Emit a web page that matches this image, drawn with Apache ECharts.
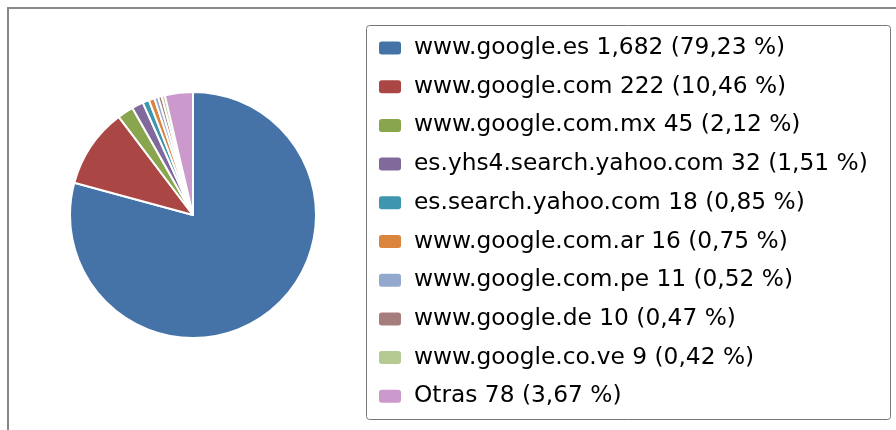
<!DOCTYPE html>
<html>
<head>
<meta charset="utf-8">
<script src="https://cdn.jsdelivr.net/npm/echarts@6/dist/echarts.min.js"></script>
<style>
  html, body { margin: 0; padding: 0; background: #fff; }
  #frame { position: absolute; left: 7px; top: 7px; width: 1000px; height: 600px; border: 2px solid #888; box-sizing: border-box; }
  #chart { position: absolute; left: 0; top: 0; width: 896px; height: 430px; }
</style>
</head>
<body>
<div id="frame"></div>
<div id="chart"></div>
<script>
// referentes (dominios) y visitas
const referentes = ['www.google.es', 'www.google.com', 'www.google.com.mx', 'es.yhs4.search.yahoo.com',
  'es.search.yahoo.com', 'www.google.com.ar', 'www.google.com.pe', 'www.google.de', 'www.google.co.ve', 'Otras'];
const visitas = [1682, 222, 45, 32, 18, 16, 11, 10, 9, 78];
const colores = ['#4572A7', '#AA4643', '#89A54E', '#80699B', '#3D96AE', '#DB843D', '#92A8CD', '#A47D7C', '#B5CA92', '#CC99CC'];

const total = visitas.reduce((a, b) => a + b, 0);

function miles(n) {
  return String(n).replace(/\B(?=(\d{3})+(?!\d))/g, ',');
}

const datos = referentes.map((r, i) => ({ name: r, value: visitas[i], itemStyle: { color: colores[i] } }));

const myChart = echarts.init(document.getElementById('chart'));
myChart.setOption({
  animation: false,
  // caja de la leyenda
  graphic: [{
    type: 'rect',
    z: -1,
    shape: { x: 366.5, y: 25.5, width: 524, height: 394, r: 3 },
    style: { fill: '#fff', stroke: '#777', lineWidth: 1 },
    silent: true
  }],
  legend: {
    orient: 'vertical',
    left: 366,
    top: 25,
    padding: [11, 11, 11, 11],
    itemWidth: 24,
    itemHeight: 15,
    itemGap: 14.7,
    icon: 'roundRect',
    textStyle: {
      fontFamily: 'DejaVu Sans',
      fontSize: 23.3,
      lineHeight: 21,
      color: '#000',
      padding: [3, 0, 0, 7]
    },
    formatter: function (name) {
      const i = referentes.indexOf(name);
      const pct = (visitas[i] / total * 100).toFixed(2).replace('.', ',');
      return name + ' ' + miles(visitas[i]) + ' (' + pct + ' %)';
    }
  },
  series: [{
    type: 'pie',
    center: [193, 215],
    radius: 123,
    startAngle: 90,
    clockwise: true,
    label: { show: false },
    labelLine: { show: false },
    itemStyle: { borderColor: '#fff', borderWidth: 2 },
    emphasis: { disabled: true },
    data: datos
  }]
});
</script>
</body>
</html>
